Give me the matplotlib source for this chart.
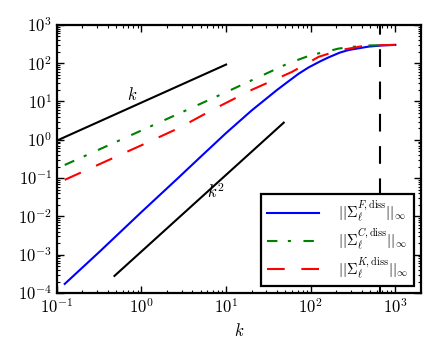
import numpy as np
import matplotlib
matplotlib.use('Agg')
import matplotlib.pyplot as plt
from matplotlib.ticker import FuncFormatter, LogLocator

plt.rcParams['mathtext.fontset'] = 'cm'

# curves
kF = [0.124, 0.32, 1.0, 2.65, 4.8, 10, 20, 40, 55, 72, 95, 130, 163, 220, 280, 481, 700, 1000]
vF = [1.73e-4, 1.2e-3, 0.013, 0.096, 0.33, 1.5, 5.8, 20, 34, 53, 78, 112, 142, 188, 220, 270, 290, 300]

kC = [0.124, 1.0, 3.67, 10, 55, 103, 150, 213, 302, 500, 1000]
vC = [0.22, 1.75, 6.4, 17.5, 100, 165, 197, 240, 265, 290, 300]

kK = [0.124, 1.0, 2.8, 6.84, 20, 60, 124, 213, 444, 1000]
vK = [0.09, 0.72, 2.05, 6.0, 20, 59, 146, 214, 288, 300]

# reference slopes
k1 = [0.1, 10]
v1 = [0.95, 92]
k2 = [0.48, 48]
v2 = [2.8e-4, 2.8]

kcut = 665

fig = plt.figure(figsize=(4.37, 3.6), dpi=100)
ax = fig.add_axes([0.130, 0.186, 0.833, 0.745])

ax.plot(kF, vF, color='b', lw=1.5, label=r'$||\Sigma_\ell^{F,\mathrm{diss}}||_\infty$')
ax.plot(kC, vC, color='g', lw=1.5, dashes=(5, 5, 1.5, 6), label=r'$||\Sigma_\ell^{C,\mathrm{diss}}||_\infty$')
ax.plot(kK, vK, color='r', lw=1.5, dashes=(8.5, 8), label=r'$||\Sigma_\ell^{K,\mathrm{diss}}||_\infty$')
ax.plot(k1, v1, color='k', lw=1.5)
ax.plot(k2, v2, color='k', lw=1.5)
ax.axvline(kcut, color='k', lw=1.5, dashes=(8.5, 7))

ax.text(0.78, 14.5, r'$k$', fontsize=12, ha='center', va='center')
ax.text(7.6, 0.042, r'$k^2$', fontsize=12, ha='center', va='center')

ax.set_xscale('log')
ax.set_yscale('log')
ax.set_xlim(0.1, 2000)
ax.set_ylim(1e-4, 1e3)
ax.set_xlabel(r'$k$', fontsize=12)

fmt = FuncFormatter(lambda v, p: r'$10^{%d}$' % int(round(np.log10(v))))
ax.xaxis.set_major_formatter(fmt)
ax.yaxis.set_major_formatter(fmt)
ax.xaxis.set_major_locator(LogLocator(base=10, numticks=10))
ax.yaxis.set_major_locator(LogLocator(base=10, numticks=10))
ax.xaxis.set_minor_locator(LogLocator(base=10, subs=np.arange(2, 10), numticks=20))
ax.yaxis.set_minor_locator(LogLocator(base=10, subs=np.arange(2, 10), numticks=20))
ax.tick_params(which='both', direction='in', top=True, right=True, labelsize=12)
ax.tick_params(which='major', length=5, width=1)
ax.tick_params(which='minor', length=2.5, width=0.8)
for s in ax.spines.values():
    s.set_linewidth(1.6)

leg = ax.legend(loc='lower right', fontsize=10.5, handlelength=3.6, fancybox=False,
                framealpha=1, edgecolor='k', borderaxespad=0.5, labelspacing=0.2,
                borderpad=0.35, handletextpad=1.3)
leg.get_frame().set_linewidth(1.6)

fig.savefig('out.png', dpi=100, facecolor='white')
